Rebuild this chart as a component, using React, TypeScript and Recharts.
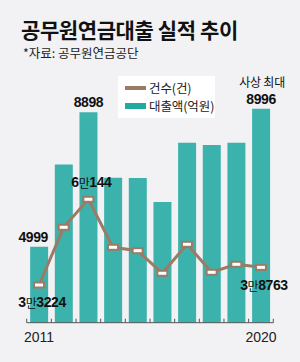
import { Bar, ComposedChart, LabelList, Legend, Line, XAxis, YAxis } from "recharts";

// 공무원연금 대출 실적 (2011~2020)
const years = ["2011", "2012", "2013", "2014", "2015", "2016", "2017", "2018", "2019", "2020"];
const loanAmounts = [4999, 7385, 8898, 7000, 6990, 6293, 8011, 7944, 8011, 8996]; // 억원
const loanCounts = [33224, 51348, 60144, 45066, 43998, 36899, 46008, 37213, 39726, 38763]; // 건
const amountLabelYears = ["2011", "2013", "2020"];
const countLabelYears = ["2011", "2013", "2020"];
const recordYear = "2020";

const data = years.map((year, i) => ({ year, amount: loanAmounts[i], count: loanCounts[i] }));

const teal = "#3cb2ad";
const brown = "#9b7b66";
const hangul = "'Noto Sans CJK KR', 'Noto Sans', sans-serif";
const digits = "'Liberation Sans', Arial, sans-serif";

function AmountLabel(props: any) {
  const { x, y, width, index } = props;
  const year = years[index];
  if (!amountLabelYears.includes(year)) return null;
  const cx = x + width / 2 + (index === 0 ? -6 : 0);
  return (
    <g>
      {year === recordYear && (
        <text x={cx + 1} y={y - 27} textAnchor="middle" dominantBaseline="central" fontFamily={hangul} fontSize={12} letterSpacing={-0.2} fill="#111">
          사상 최대
        </text>
      )}
      <text x={cx} y={y - 10} textAnchor="middle" dominantBaseline="central" fontFamily={digits} fontWeight={700} fontSize={14} letterSpacing={-0.4} fill="#111">
        {loanAmounts[index]}
      </text>
    </g>
  );
}

function CountLabel(props: any) {
  const { x, y, index } = props;
  const year = years[index];
  if (!countLabelYears.includes(year)) return null;
  const value = loanCounts[index];
  const man = Math.floor(value / 10000);
  const rest = value % 10000;
  const below = year !== "2013";
  return (
    <text x={x + 3} y={below ? y + 17.5 : y - 17.5} textAnchor="middle" dominantBaseline="central" fill="#111" letterSpacing={-0.4}>
      <tspan fontFamily={digits} fontWeight={700} fontSize={14}>{man}</tspan>
      <tspan fontFamily={hangul} fontWeight={400} fontSize={12}>만</tspan>
      <tspan fontFamily={digits} fontWeight={700} fontSize={14}>{rest}</tspan>
    </text>
  );
}

function CountDot(props: any) {
  const { cx, cy } = props;
  return <rect x={cx - 5} y={cy - 2.5} width={10} height={5} fill="#fff" stroke={brown} strokeWidth={2} />;
}

function YearTick(props: any) {
  const { x, y, payload } = props;
  const half = payload.offset || 12.3;
  const first = payload.value === years[0];
  const last = payload.value === years[years.length - 1];
  return (
    <g>
      <line x1={x - half} x2={x - half} y1={y - 4} y2={y} stroke="#555" />
      {last && <line x1={x + half} x2={x + half} y1={y - 4} y2={y} stroke="#555" />}
      {(first || last) && (
        <text x={x} y={y + 14.5} textAnchor="middle" dominantBaseline="central" fontFamily="'Liberation Sans Narrow', 'Liberation Sans', Arial, sans-serif" fontSize={14} fill="#222">
          {payload.value}
        </text>
      )}
    </g>
  );
}

function LegendBox(props: any) {
  const items = [...(props.payload || [])].sort((a: any, b: any) => (a.type === "line" ? -1 : b.type === "line" ? 1 : 0));
  return (
    <div style={{ position: "relative", zIndex: 5, background: "#fff", width: 97, height: 42, boxSizing: "border-box", padding: "3px 0 0 7px" }}>
      {items.map((item: any) => (
        <div key={item.value} style={{ display: "flex", alignItems: "center", height: 18.2, whiteSpace: "nowrap" }}>
          <span
            style={{
              display: "inline-block",
              flexShrink: 0,
              width: 21,
              height: item.type === "line" ? 4 : 6,
              background: item.type === "line" ? brown : "#22a9a0",
              marginRight: 3,
            }}
          />
          <span style={{ fontFamily: hangul, fontSize: 12.5, lineHeight: "16px", color: "#222", letterSpacing: -0.1 }}>{item.value}</span>
        </div>
      ))}
    </div>
  );
}

export default function App() {
  return (
    <div style={{ position: "absolute", left: 0, top: 0, width: 300, height: 362, background: "#f2f2f4", overflow: "hidden" }}>
      <div style={{ position: "absolute", left: 21, top: 18, height: 22, fontFamily: hangul, fontWeight: 700, fontSize: 21, letterSpacing: -0.4, color: "#111", lineHeight: "22px", whiteSpace: "nowrap" }}>
        공무원연금대출 실적 추이
      </div>
      <div style={{ position: "absolute", left: 23, top: 44, height: 18, fontFamily: hangul, fontSize: 12.5, color: "#222", lineHeight: "18px", whiteSpace: "nowrap" }}>
        *자료: 공무원연금공단
      </div>
      <div style={{ position: "absolute", left: 0, top: 0 }}>
        <ComposedChart width={300} height={362} data={data} margin={{ top: 100, right: 26.7, bottom: 9.3, left: 26.7 }} barCategoryGap="14%">
          <XAxis dataKey="year" interval={0} tickSize={0} tickMargin={0} tickLine={false} axisLine={{ stroke: "#555" }} tick={<YearTick />} height={30} />
          <YAxis yAxisId="amount" hide domain={[2800, 9250]} />
          <YAxis yAxisId="count" hide orientation="right" domain={[21380, 91330]} />
          <Legend
            layout="horizontal"
            verticalAlign="middle"
            align="center"
            content={<LegendBox />}
            wrapperStyle={{ left: 118, top: 76, width: 97, height: 42, zIndex: 5, margin: 0, padding: 0 }}
          />
          <Bar yAxisId="amount" dataKey="amount" name="대출액(억원)" fill={teal} isAnimationActive={false}>
            <LabelList dataKey="amount" content={<AmountLabel />} />
          </Bar>
          <Line yAxisId="count" dataKey="count" name="건수(건)" type="linear" stroke={brown} strokeWidth={3} dot={<CountDot />} activeDot={false} legendType="line" isAnimationActive={false}>
            <LabelList dataKey="count" content={<CountLabel />} />
          </Line>
        </ComposedChart>
      </div>
    </div>
  );
}
